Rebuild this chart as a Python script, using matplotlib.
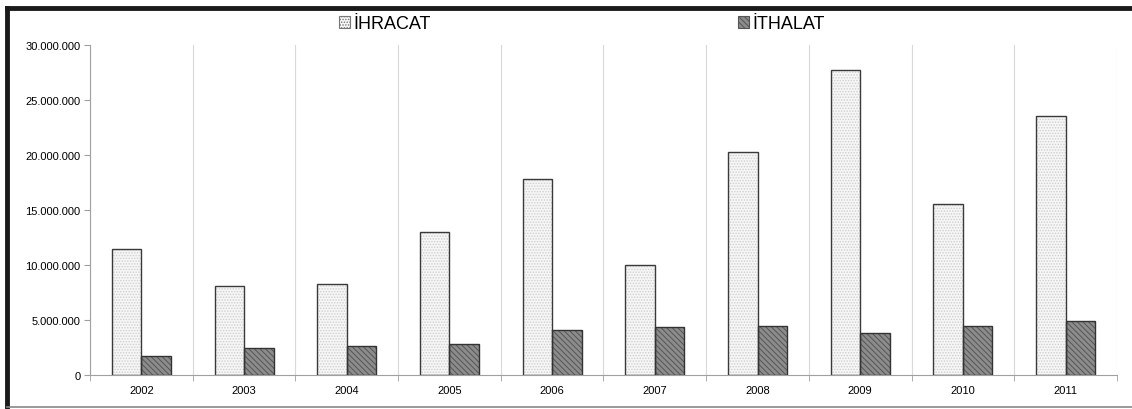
import matplotlib.pyplot as plt
from matplotlib.patches import Patch
from matplotlib.lines import Line2D

plt.rcParams['font.family'] = ['Liberation Sans', 'DejaVu Sans']
plt.rcParams['hatch.linewidth'] = 0.7

years = ['2002', '2003', '2004', '2005', '2006', '2007', '2008', '2009', '2010', '2011']
ihracat = [11450000, 8120000, 8280000, 13000000, 17800000, 10000000, 20300000, 27750000, 15550000, 23550000]
ithalat = [1750000, 2420000, 2620000, 2850000, 4100000, 4350000, 4420000, 3800000, 4480000, 4900000]

fig = plt.figure(figsize=(11.32, 4.10), dpi=100)
ax = fig.add_axes([0.0795, 0.0829, 0.9072, 0.8049])

x = list(range(len(years)))
w = 0.287
x1 = [i - w / 2 for i in x]
x2 = [i + w / 2 for i in x]

# fill + hatch layer, then outline layer
ax.bar(x1, ihracat, width=w, color='#f6f6f6', edgecolor='#cfcfcf', hatch='......', linewidth=0, zorder=2)
ax.bar(x1, ihracat, width=w, fill=False, edgecolor='#3a3a3a', linewidth=1.0, zorder=3)
ax.bar(x2, ithalat, width=w, color='#8c8c8c', edgecolor='#555555', hatch='\\\\\\\\\\\\', linewidth=0, zorder=2)
ax.bar(x2, ithalat, width=w, fill=False, edgecolor='#333333', linewidth=1.0, zorder=3)

ax.set_xlim(-0.5, len(years) - 0.5)
ax.set_ylim(0, 30000000)
ax.set_yticks(range(0, 30000001, 5000000))
ax.set_yticklabels([f'{v:,.0f}'.replace(',', '.') for v in range(0, 30000001, 5000000)])
ax.set_xticks(x)
ax.set_xticklabels(years)
ax.set_xticks([i - 0.5 for i in range(len(years) + 1)], minor=True)
ax.tick_params(axis='x', which='major', length=0, labelsize=8, pad=7)
ax.tick_params(axis='x', which='minor', length=4, color='#a0a0a0', direction='out')
ax.tick_params(axis='y', length=4, color='#a0a0a0', labelsize=8, pad=3)
ax.grid(axis='x', which='minor', color='#d9d9d9', linewidth=0.8, zorder=0)
ax.set_axisbelow(True)
for s in ['top', 'right']:
    ax.spines[s].set_visible(False)
ax.spines['left'].set_color('#a0a0a0')
ax.spines['bottom'].set_color('#a0a0a0')

# chart frame
fig.add_artist(Line2D([0.0062, 1.0], [0.978, 0.978], color='#1a1a1a', linewidth=3.5))
fig.add_artist(Line2D([0.0062, 0.0062], [0.0055, 0.978], color='#1a1a1a', linewidth=3.5))
fig.add_artist(Line2D([0.0062, 1.0], [0.0055, 0.0055], color='#888888', linewidth=1.2))

handles = [Patch(facecolor='#f6f6f6', edgecolor='#777777', hatch='......', linewidth=0.8),
           Patch(facecolor='#8c8c8c', edgecolor='#555555', hatch='\\\\\\\\\\\\', linewidth=0.8)]
leg = fig.legend(handles, ['İHRACAT', 'İTHALAT'], loc='upper center', bbox_to_anchor=(0.514, 1.0),
                 ncol=2, frameon=False, fontsize=13, handlelength=0.6, handleheight=0.6,
                 handletextpad=0.2, columnspacing=17.0)
leg.set_zorder(10)

fig.savefig('out.png', dpi=100)
